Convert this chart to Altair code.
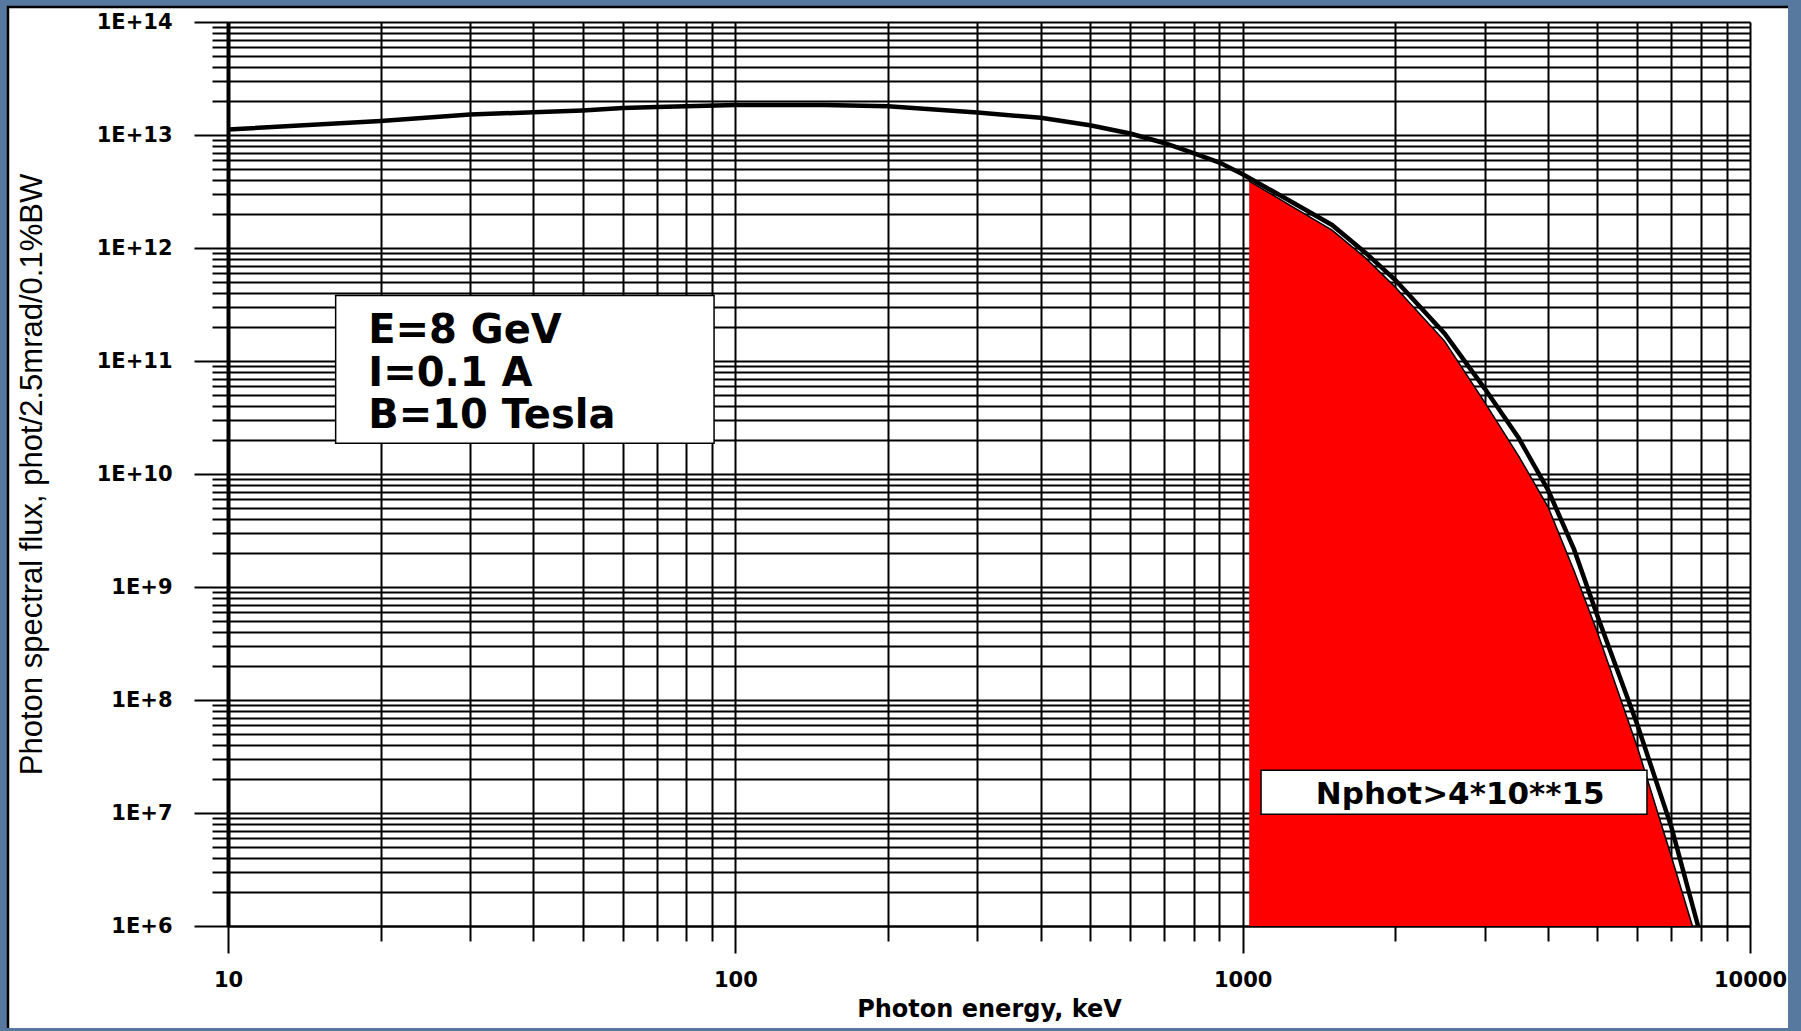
import json
import altair as alt
import pandas as pd

# Synchrotron spectrum: photon energy (keV) and spectral flux (phot/2.5mrad/0.1%BW)
ENERGY_KEV = [10, 20, 30, 40, 50, 60, 70, 100, 150, 200, 300, 400, 500, 600, 700,
              800, 900, 1000, 1250, 1500, 1750, 2000, 2500, 3000, 3500, 4000, 4500,
              5000, 6000, 7000, 7900]
FLUX = [1.12e13, 1.33e13, 1.52e13, 1.59e13, 1.65e13, 1.73e13, 1.77e13, 1.84e13,
        1.84e13, 1.80e13, 1.58e13, 1.42e13, 1.22e13, 1.03e13, 8.5e12, 6.9e12,
        5.7e12, 4.5e12, 2.55e12, 1.6e12, 9.0e11, 5.2e11, 1.75e11, 5.7e10, 2.08e10,
        7.2e9, 2.15e9, 5.6e8, 6.0e7, 7.5e6, 1.0e6]

# Photons above 1 MeV (shaded part of the spectrum)
TAIL_ENERGY_KEV = [1030, 1250, 1500, 1750, 2000, 2500, 3000, 3500, 4000, 4500, 5000,
                   6000, 7000, 7700]
TAIL_FLUX = [3.9e12, 2.34e12, 1.44e12, 8.1e11, 4.5e11, 1.5e11, 4.3e10, 1.44e10, 5.1e9,
             1.39e9, 4.0e8, 3.8e7, 4.1e6, 1.0e6]

# Axis ticks and labels
X_DECADES = [10, 100, 1000, 10000]
X_LABELS = ["10", "100", "1000", "10000"]
X_TICKS = [m * d for d in (10, 100, 1000) for m in range(1, 10)] + [10000]
Y_DECADES = [10.0 ** e for e in range(6, 15)]
Y_LABELS = ["1E+%d" % e for e in range(6, 15)]
Y_TICKS = [m * 10.0 ** e for e in range(6, 14) for m in range(1, 10)] + [1e14]

PARAM_LINES = ["E=8 GeV", "I=0.1 A", "B=10 Tesla"]
COUNT_TEXT = "Nphot>4*10**15"

BLUE = "#57789f"
FONT_B = "DejaVu Sans"

curve = pd.DataFrame({"E": ENERGY_KEV, "F": FLUX})
tail = pd.DataFrame({"E": TAIL_ENERGY_KEV, "F": TAIL_FLUX})

x_scale = alt.Scale(type="log", domain=[10, 10000], nice=False)
y_scale = alt.Scale(type="log", domain=[1e6, 1e14], nice=False)


def label_expr(values, labels):
    v = json.dumps(values)
    l = json.dumps(labels)
    return f"indexof({v}, datum.value) >= 0 ? {l}[indexof({v}, datum.value)] : ''"


def major_test(values):
    return f"indexof({json.dumps(values)}, datum.value) >= 0"


x_axis = alt.Axis(
    values=X_TICKS, labelExpr=label_expr(X_DECADES, X_LABELS),
    grid=True, gridColor="black", gridWidth=2, gridOpacity=1,
    ticks=True, tickColor="black", tickWidth=2,
    tickSize={"condition": {"test": major_test(X_DECADES), "value": 27}, "value": 15},
    domain=True, domainColor="black", domainWidth=2,
    labelFont=FONT_B, labelFontWeight="bold", labelFontSize=21, labelColor="black",
    labelPadding=16, labelFlush=False, labelOverlap=False,
    title="Photon energy, keV", titleFont=FONT_B, titleFontWeight="bold",
    titleFontSize=24, titleColor="black", titleY=90, titleBaseline="alphabetic",
)
y_axis = alt.Axis(
    values=Y_TICKS, labelExpr=label_expr(Y_DECADES, Y_LABELS),
    grid=True, gridColor="black", gridWidth=2, gridOpacity=1,
    ticks=True, tickColor="black", tickWidth=2,
    tickSize={"condition": {"test": major_test(Y_DECADES), "value": 34}, "value": 16},
    domain=True, domainColor="black", domainWidth=4,
    labelFont=FONT_B, labelFontWeight="bold", labelFontSize=21, labelColor="black",
    labelPadding=22, labelOverlap=False, labelBaseline="middle",
    title="Photon spectral flux, phot/2.5mrad/0.1%BW", titleFont="Liberation Sans",
    titleFontWeight="normal", titleFontSize=31, titleColor="black",
    titleX=-196, titleBaseline="middle",
)


def X(field):
    return alt.X(f"{field}:Q", scale=x_scale, axis=x_axis)


def Y(field):
    return alt.Y(f"{field}:Q", scale=y_scale, axis=y_axis)


# Shaded high-energy region with its thin outline
area = alt.Chart(tail).mark_area(color="#ff0000", opacity=1, interpolate="linear").encode(
    x=X("E"), y=Y("F"), y2=alt.datum(1e6)
)
tail_line = alt.Chart(tail).mark_line(color="black", strokeWidth=1.5).encode(x=X("E"), y=Y("F"))

# Main spectrum curve
line = alt.Chart(curve).mark_line(color="black", strokeWidth=4.5).encode(x=X("E"), y=Y("F"))

# Parameter box
param_box = pd.DataFrame({"x0": [16.3], "x1": [90.8], "y0": [1.87e10], "y1": [3.8e11]})
box1 = alt.Chart(param_box).mark_rect(fill="white", stroke="black", strokeWidth=1.5).encode(
    x=X("x0"), x2="x1", y=Y("y0"), y2="y1"
)
param_text = pd.DataFrame({"x": [18.9], "y": [1.44e11], "t": [PARAM_LINES]})
txt1 = alt.Chart(param_text).mark_text(
    align="left", baseline="alphabetic", font=FONT_B, fontWeight="bold",
    fontSize=40, lineHeight=42.5, color="black"
).encode(x=X("x"), y=Y("y"), text="t")

# Photon count box
count_box = pd.DataFrame({"x0": [1087], "x1": [6265], "y0": [9.75e6], "y1": [2.39e7]})
box2 = alt.Chart(count_box).mark_rect(fill="white", stroke="black", strokeWidth=1.5).encode(
    x=X("x0"), x2="x1", y=Y("y0"), y2="y1"
)
count_text = pd.DataFrame({"x": [2684], "y": [1.19e7], "t": [COUNT_TEXT]})
txt2 = alt.Chart(count_text).mark_text(
    align="center", baseline="alphabetic", font=FONT_B, fontWeight="bold",
    fontSize=31, color="black"
).encode(x=X("x"), y=Y("y"), text="t")

# Slide frame around the white panel
one = pd.DataFrame({"k": [0]})
frame = [
    alt.Chart(one).mark_rect(color=BLUE).encode(
        x=alt.value(-228), x2=alt.value(1573), y=alt.value(-22), y2=alt.value(-16)),
    alt.Chart(one).mark_rect(color=BLUE).encode(
        x=alt.value(-228), x2=alt.value(1573), y=alt.value(1006), y2=alt.value(1009)),
    alt.Chart(one).mark_rect(color=BLUE).encode(
        x=alt.value(-228), x2=alt.value(-221), y=alt.value(-22), y2=alt.value(1009)),
    alt.Chart(one).mark_rect(color=BLUE).encode(
        x=alt.value(1560), x2=alt.value(1573), y=alt.value(-22), y2=alt.value(1009)),
    alt.Chart(one).mark_rule(color="black", strokeWidth=2.5).encode(
        x=alt.value(-221), x2=alt.value(1560), y=alt.value(-15)),
    alt.Chart(one).mark_rule(color="black", strokeWidth=2.5).encode(
        x=alt.value(-220), y=alt.value(-16), y2=alt.value(1006)),
]

chart = alt.layer(area, tail_line, line, box1, txt1, box2, txt2, *frame).properties(
    width=1522, height=904,
    autosize=alt.AutoSizeParams(type="none"),
    padding={"left": 228, "top": 22, "right": 51, "bottom": 105},
    background="white",
).configure_view(stroke=None)

chart.save("out.html", embed_options={"renderer": "svg", "actions": False})
